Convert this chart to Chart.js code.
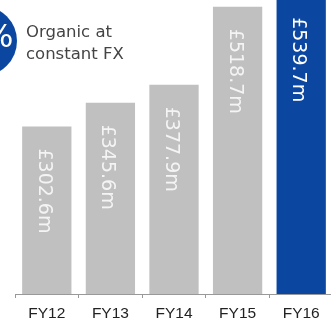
<!DOCTYPE html>
<html>
<head>
<meta charset="utf-8">
<script src="https://cdn.jsdelivr.net/npm/chart.js@4.4.0/dist/chart.umd.min.js"></script>
<style>
  html, body { margin: 0; padding: 0; background: #fff; overflow: hidden; }
  #wrap { position: relative; width: 334px; height: 322px; }
  #badge {
    position: absolute; left: -53px; top: 6px; width: 70px; height: 70px;
    border-radius: 50%; background: #0b47a1; overflow: hidden;
  }
  #badge span {
    position: absolute; left: 36px; top: 14px;
    font: 32px "DejaVu Sans", sans-serif; color: #fff; line-height: 1;
  }
  #note {
    position: absolute; left: 26px; top: 21px;
    font: 16.5px "DejaVu Sans", sans-serif; color: #444; line-height: 22px;
  }
</style>
</head>
<body>
<div id="wrap">
  <canvas id="myChart" width="334" height="322"></canvas>
  <div id="badge"><span>%</span></div>
  <div id="note">Organic at<br>constant FX</div>
</div>
<script>
// Daten
const years = ['FY12', 'FY13', 'FY14', 'FY15', 'FY16'];
const revenue = [302.6, 345.6, 377.9, 518.7, 539.7];
const revenueLabels = ['£302.6m', '£345.6m', '£377.9m', '£518.7m', '£539.7m'];

const barColors = ['#c0c0c0', '#c0c0c0', '#c0c0c0', '#c0c0c0', '#0b47a1'];

// Beschriftung senkrecht in den Balken
const barText = {
    id: 'barText',
    afterDatasetsDraw(chart) {
        const ctx = chart.ctx;
        const meta = chart.getDatasetMeta(0);
        ctx.save();
        ctx.font = '19px "DejaVu Sans", sans-serif';
        ctx.textAlign = 'left';
        ctx.textBaseline = 'alphabetic';
        meta.data.forEach(function(bar, i) {
            ctx.save();
            ctx.translate(bar.x, bar.y + 22);
            ctx.rotate(Math.PI / 2);
            ctx.fillStyle = i === 4 ? '#ffffff' : '#f4f4f4';
            ctx.fillText(revenueLabels[i], 0, 8);
            ctx.restore();
        });
        ctx.restore();
    }
};

var ctx = document.getElementById('myChart').getContext('2d');
var myChart = new Chart(ctx, {
    type: 'bar',
    data: {
        labels: years,
        datasets: [{
            data: revenue,
            backgroundColor: barColors,
            borderWidth: 0,
            barPercentage: 0.775,
            categoryPercentage: 1
        }]
    },
    options: {
        responsive: false,
        animation: false,
        layout: { padding: { left: 15, right: 1, top: 0, bottom: 0 } },
        plugins: {
            legend: { display: false },
            tooltip: { enabled: false }
        },
        scales: {
            x: {
                grid: {
                    drawOnChartArea: false,
                    color: '#999',
                    tickLength: 4
                },
                border: { color: '#999' },
                ticks: {
                    color: '#222',
                    padding: 6,
                    font: { family: '"Liberation Sans", Arial, sans-serif', size: 15.5 }
                },
                afterFit(scale) { scale.height = 28; }
            },
            y: {
                display: false,
                min: 0,
                max: 531
            }
        }
    },
    plugins: [barText]
});
</script>
</body>
</html>
